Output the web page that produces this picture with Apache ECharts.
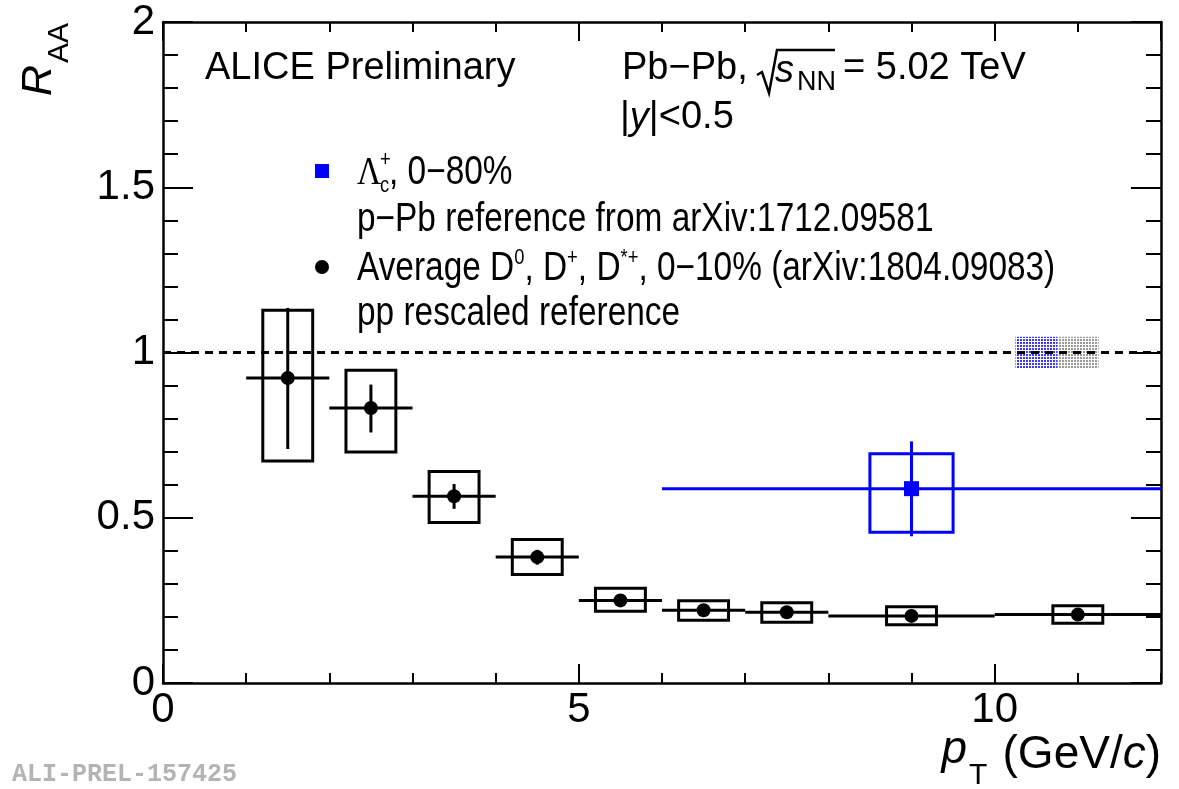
<!DOCTYPE html>
<html>
<head>
<meta charset="utf-8">
<script src="https://cdn.jsdelivr.net/npm/echarts@6/dist/echarts.min.js"></script>
<style>
  html, body { margin: 0; padding: 0; background: #fff; }
  #chart { width: 1179px; height: 789px; }
</style>
</head>
<body>
<div id="chart"></div>
<script>
// Average D0, D+, D*+ R_AA, 0–10% centrality
const dPt      = [1.5, 2.5, 3.5, 4.5, 5.5, 6.5, 7.5, 9, 11];
const dBinLo   = [1, 2, 3, 4, 5, 6, 7, 8, 10];
const dBinHi   = [2, 3, 4, 5, 6, 7, 8, 10, 12];
const dRaa     = [0.923, 0.832, 0.565, 0.381, 0.250, 0.220, 0.214, 0.203, 0.207];
const dStatLo  = [0.708, 0.758, 0.527, 0.358, 0.240, 0.211, 0.205, 0.194, 0.198];
const dStatHi  = [1.135, 0.903, 0.602, 0.403, 0.260, 0.229, 0.223, 0.212, 0.216];
const dSysLo   = [0.672, 0.699, 0.486, 0.328, 0.217, 0.190, 0.184, 0.176, 0.181];
const dSysHi   = [1.128, 0.946, 0.640, 0.434, 0.287, 0.249, 0.243, 0.231, 0.234];

// Lambda_c+ R_AA, 0–80% centrality
const lcPt     = [9];
const lcBinLo  = [6];
const lcBinHi  = [12];
const lcRaa    = [0.588];
const lcStatLo = [0.444];
const lcStatHi = [0.731];
const lcSysLo  = [0.456];
const lcSysHi  = [0.694];

// normalisation uncertainties drawn at unity
const normPt   = [10.5, 11.0];
const normUnc  = [0.048, 0.048];

// axis ticks
const xMajorStep = 5, xMinorStep = 1;
const yMajorStep = 0.5;

const SANS = "'Liberation Sans', Arial, Helvetica, sans-serif";
const SERIF = "'Liberation Serif', 'Times New Roman', serif";
const MONO = "'Liberation Mono', 'Courier New', monospace";

const BLUE = '#0000ff';
const BLACK = '#000000';
const D_BOX_HALF = 0.3;
const LC_BOX_HALF = 0.5;

function rows(pt, lo, hi, v, sl, sh, yl, yh) {
  return pt.map((x, i) => [x, v[i], lo[i], hi[i], sl[i], sh[i], yl[i], yh[i]]);
}
const dRows = rows(dPt, dBinLo, dBinHi, dRaa, dStatLo, dStatHi, dSysLo, dSysHi);
const lcRows = rows(lcPt, lcBinLo, lcBinHi, lcRaa, lcStatLo, lcStatHi, lcSysLo, lcSysHi);

// error bars + systematic boxes
function errorRenderer(color, boxHalf) {
  return function (params, api) {
    const x = api.value(0), y = api.value(1);
    const xl = api.value(2), xh = api.value(3);
    const sl = api.value(4), sh = api.value(5);
    const yl = api.value(6), yh = api.value(7);
    const b1 = api.coord([x - boxHalf, yh]);
    const b2 = api.coord([x + boxHalf, yl]);
    const h1 = api.coord([xl, y]);
    const h2 = api.coord([xh, y]);
    const v1 = api.coord([x, sh]);
    const v2 = api.coord([x, sl]);
    const st = { stroke: color, lineWidth: 3, fill: null };
    return {
      type: 'group',
      children: [
        { type: 'rect', shape: { x: b1[0], y: b1[1], width: b2[0] - b1[0], height: b2[1] - b1[1] }, style: st },
        { type: 'line', shape: { x1: h1[0], y1: h1[1], x2: h2[0], y2: h2[1] }, style: st },
        { type: 'line', shape: { x1: v1[0], y1: v1[1], x2: v2[0], y2: v2[1] }, style: st }
      ]
    };
  };
}

// dotted fill pattern for normalisation boxes
function dotPattern(color) {
  const c = document.createElement('canvas');
  c.width = 3; c.height = 3;
  const g = c.getContext('2d');
  g.fillStyle = color;
  g.fillRect(0, 0, 2, 2);
  return { image: c, repeat: 'repeat' };
}
const normFills = [dotPattern('#3b3bff'), dotPattern('#9a9a9a')];
const normHalfWidth = 0.25;

function normRenderer(params, api) {
  const x = api.value(0), u = api.value(1);
  const p1 = api.coord([x - normHalfWidth, 1 + u]);
  const p2 = api.coord([x + normHalfWidth, 1 - u]);
  return {
    type: 'rect',
    shape: { x: p1[0], y: p1[1], width: p2[0] - p1[0], height: p2[1] - p1[1] },
    style: { fill: normFills[params.dataIndex], stroke: null }
  };
}

function xAxisCfg(position, step, tickLen, withLabels, withLine) {
  return {
    type: 'value', min: 0, max: 12, interval: step, position: position,
    axisLine: { show: withLine, onZero: false, lineStyle: { color: BLACK, width: 2.5 } },
    axisTick: { show: true, inside: true, length: tickLen, lineStyle: { color: BLACK, width: 2 } },
    axisLabel: {
      show: withLabels, margin: 6, color: BLACK, fontSize: 42, fontFamily: SANS,
      showMaxLabel: false,
      formatter: v => (v % xMajorStep === 0 ? String(v) : '')
    },
    splitLine: { show: false }
  };
}
function yAxisCfg(position, withLabels) {
  return {
    type: 'value', min: 0, max: 2, interval: yMajorStep, position: position,
    axisLine: { show: true, onZero: false, lineStyle: { color: BLACK, width: 2.5 } },
    axisTick: { show: true, inside: true, length: 30, lineStyle: { color: BLACK, width: 2 } },
    minorTick: { show: true, splitNumber: 5, length: 15, lineStyle: { color: BLACK, width: 2 } },
    axisLabel: { show: withLabels, margin: 8, color: BLACK, fontSize: 42, fontFamily: SANS, formatter: v => String(v) },
    splitLine: { show: false }, minorSplitLine: { show: false }
  };
}

function txt(x, y, text, size, extra) {
  const style = Object.assign({
    text: text, fill: BLACK, fontSize: size, fontFamily: SANS,
    align: 'left', verticalAlign: 'middle'
  }, (extra && extra.style) || {});
  const el = { type: 'text', x: x, y: y, silent: true, z: 100, style: style };
  if (extra) {
    ['rotation', 'scaleX', 'scaleY'].forEach(k => { if (extra[k] !== undefined) el[k] = extra[k]; });
  }
  return el;
}

const LEG = 40, NARROW = 0.835;

const graphics = [
  // header
  txt(205, 69, 'ALICE Preliminary', 38),
  txt(622, 69, 'Pb\u2212Pb,', 38),
  { type: 'polyline', silent: true, z: 100,
    shape: { points: [[757, 75], [762, 72], [769, 93], [777, 50], [835, 50]] },
    style: { stroke: BLACK, lineWidth: 2.5, fill: null } },
  txt(775, 71, 's', 38, { style: { fontStyle: 'italic' } }),
  txt(797, 83, 'NN', 27),
  txt(843, 69, '= 5.02 TeV', 38),
  txt(620, 118, '|{i|y}|<0.5', 38, { style: { rich: { i: { fontStyle: 'italic', fontSize: 38, fontFamily: SANS } } } }),

  // legend
  { type: 'rect', silent: true, z: 100, shape: { x: 315, y: 164, width: 14, height: 14 }, style: { fill: BLUE } },
  txt(357, 173, '\u039B', LEG, { scaleX: NARROW, style: { fontFamily: SERIF } }),
  txt(380, 186, 'c', 22, { scaleX: NARROW }),
  txt(380, 160, '+', 22, { scaleX: NARROW }),
  txt(389, 173, ', 0\u221280%', LEG, { scaleX: NARROW }),
  txt(357, 220, 'p\u2212Pb reference from arXiv:1712.09581', LEG, { scaleX: NARROW }),
  { type: 'circle', silent: true, z: 100, shape: { cx: 322, cy: 267, r: 7 }, style: { fill: BLACK } },
  txt(357, 269, '{n|Average D}{s|0}{n|, D}{s|+}{n|, D}{s|*+}{n|, 0\u221210% (arXiv:1804.09083)}', LEG, {
    scaleX: NARROW,
    style: { rich: {
      n: { fontSize: LEG, lineHeight: 44, fontFamily: SANS },
      s: { fontSize: 22, lineHeight: 24, verticalAlign: 'top', fontFamily: SANS }
    } }
  }),
  txt(357, 314, 'pp rescaled reference', LEG, { scaleX: NARROW }),

  // axis titles
  txt(967, 750, 'p', 46, { style: { fontStyle: 'italic', align: 'right' } }),
  txt(969, 776, 'T', 30),
  txt(1161, 755, '(GeV/{i|c})', 46, { style: { align: 'right', rich: { i: { fontStyle: 'italic', fontSize: 46, fontFamily: SANS } } } }),
  txt(39, 96, 'R', 43, { rotation: Math.PI / 2, style: { fontStyle: 'italic' } }),
  txt(60, 63, 'AA', 30, { rotation: Math.PI / 2 }),

  // preliminary figure id
  txt(12, 775, 'ALI-PREL-157425', 25, { style: { fontFamily: MONO, fontWeight: 'bold', fill: '#b4b4b4' } })
];

const chart = echarts.init(document.getElementById('chart'), null, { renderer: 'canvas' });
chart.setOption({
  animation: false,
  backgroundColor: '#ffffff',
  grid: { left: 163, right: 18, top: 22, bottom: 106, containLabel: false, outerBoundsMode: 'none' },
  xAxis: [
    xAxisCfg('bottom', xMajorStep, 19, true, true),
    xAxisCfg('bottom', xMinorStep, 10, false, false),
    xAxisCfg('top', xMajorStep, 19, false, true),
    xAxisCfg('top', xMinorStep, 10, false, false)
  ],
  yAxis: [yAxisCfg('left', true), yAxisCfg('right', false)],
  series: [
    {
      name: 'norm', type: 'custom', xAxisIndex: 0, yAxisIndex: 0, z: 1, clip: true,
      data: normPt.map((x, i) => [x, normUnc[i]]),
      renderItem: normRenderer,
      markLine: {
        silent: true, symbol: 'none', z: 5, label: { show: false },
        lineStyle: { color: BLACK, type: [8, 6], width: 3 },
        data: [{ yAxis: 1 }]
      }
    },
    {
      name: 'D', type: 'custom', xAxisIndex: 0, yAxisIndex: 0, z: 3, clip: true,
      data: dRows, renderItem: errorRenderer(BLACK, D_BOX_HALF)
    },
    {
      name: 'Lc', type: 'custom', xAxisIndex: 0, yAxisIndex: 0, z: 3, clip: true,
      data: lcRows, renderItem: errorRenderer(BLUE, LC_BOX_HALF)
    },
    {
      name: 'D markers', type: 'scatter', xAxisIndex: 0, yAxisIndex: 0, z: 6,
      symbol: 'circle', symbolSize: 14, itemStyle: { color: BLACK, opacity: 1 },
      data: dPt.map((x, i) => [x, dRaa[i]])
    },
    {
      name: 'Lc markers', type: 'scatter', xAxisIndex: 0, yAxisIndex: 0, z: 6,
      symbol: 'rect', symbolSize: 15, itemStyle: { color: BLUE, opacity: 1 },
      data: lcPt.map((x, i) => [x, lcRaa[i]])
    }
  ],
  graphic: graphics
});
</script>
</body>
</html>
